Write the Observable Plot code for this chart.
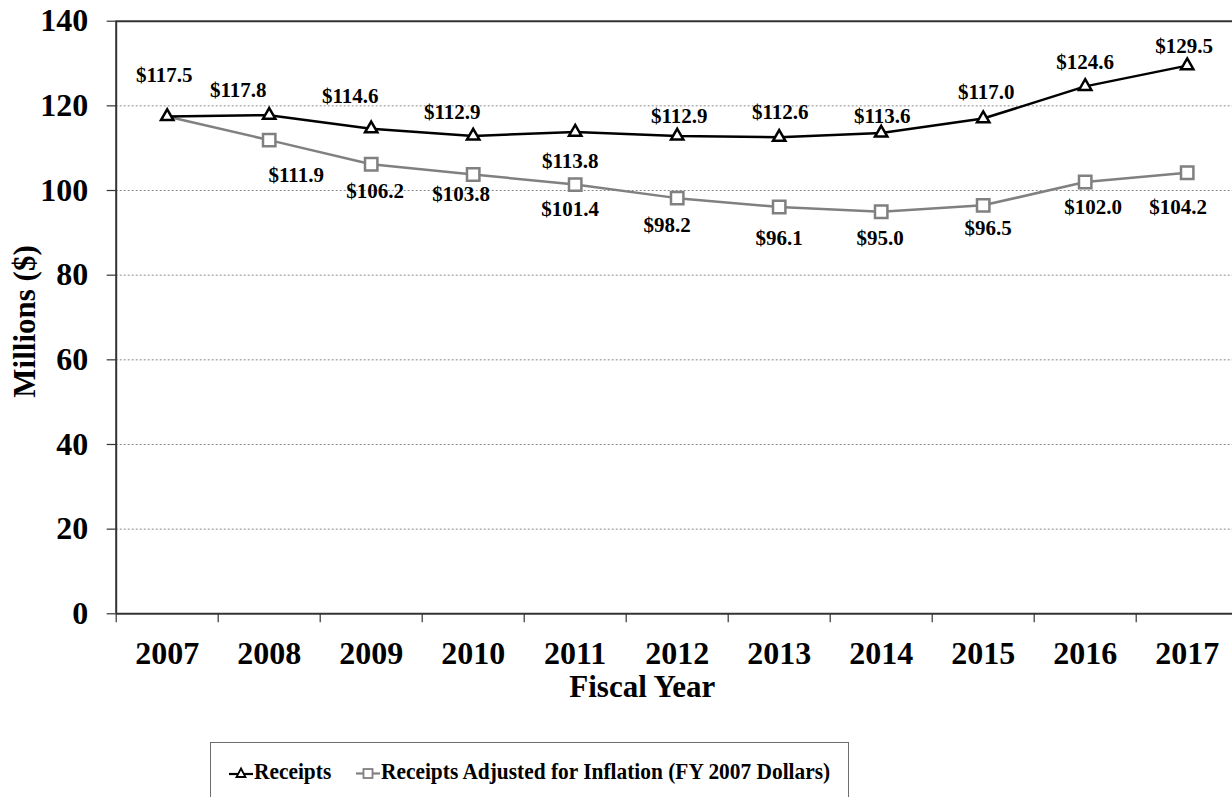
<!DOCTYPE html>
<html><head><meta charset="utf-8">
<script src="https://cdn.jsdelivr.net/npm/d3@7"></script>
<script src="https://cdn.jsdelivr.net/npm/@observablehq/plot@0.6"></script>
<style>
body{margin:0;background:#fff;overflow:hidden;font-family:"Liberation Serif","Times New Roman",serif;}
#wrap{position:relative;width:1232px;height:797px;overflow:hidden;}
#legend{position:absolute;left:210px;top:742px;width:639px;height:72px;border:1.8px solid #6e6e6e;box-sizing:border-box;background:#fff;}
#legend .sym{position:absolute;top:22px;}
#legend .lab{position:absolute;top:14px;font-weight:bold;font-size:23px;line-height:30px;color:#000;white-space:nowrap;transform:scaleX(0.93);transform-origin:0 50%;}
</style>
</head><body>
<div id="wrap"><div id="chart"></div>
<div id="legend">
  <svg class="sym" style="left:18px" width="24" height="16" viewBox="0 0 24 16"><line x1="0" y1="9" x2="24" y2="9" stroke="#000" stroke-width="2.2"/><path d="M12,3.5 L16.5,12 L7.5,12 Z" fill="#fff" stroke="#000" stroke-width="1.8"/></svg>
  <div class="lab" style="left:43px">Receipts</div>
  <svg class="sym" style="left:145px" width="24" height="16" viewBox="0 0 24 16"><line x1="0" y1="8.5" x2="24" y2="8.5" stroke="#808080" stroke-width="2.2"/><rect x="7.5" y="4" width="9" height="9" fill="#fff" stroke="#808080" stroke-width="1.8"/></svg>
  <div class="lab" style="left:170px">Receipts Adjusted for Inflation (FY 2007 Dollars)</div>
</div>
</div>
<script>
// ---- data ----
const years = [2007, 2008, 2009, 2010, 2011, 2012, 2013, 2014, 2015, 2016, 2017];
const receipts = [117.5, 117.8, 114.6, 112.9, 113.8, 112.9, 112.6, 113.6, 117.0, 124.6, 129.5];
const adjusted = [117.5, 111.9, 106.2, 103.8, 101.4, 98.2, 96.1, 95.0, 96.5, 102.0, 104.2];
const yTicks = [0, 20, 40, 60, 80, 100, 120, 140];
const gridTicks = [20, 40, 60, 80, 100, 120];

// label nudges (pixels) – styling, mimicking manual label placement
const receiptsLabelNudge = [[-3,-41],[-31,-25],[-21,-32],[-21,-24],[-5,29],[2,-20],[1,-25],[1,-17],[3,-26],[0,-24],[-3,-19]];
const adjustedLabelNudge = [null,[27,35],[4,27],[-12,20],[-5,25],[-10,27],[0,31],[-1,27],[5,23],[8,25],[-9,35]];

const rData = years.map((yr, i) => ({year: yr, value: receipts[i], i}));
const aData = years.map((yr, i) => ({year: yr, value: adjusted[i], i}));
const fmt = v => "$" + v.toFixed(1);

const H = 740;
const labelMarks = [];
rData.forEach((d, i) => {
  const [dx, dy] = receiptsLabelNudge[i];
  labelMarks.push(Plot.text([d], {x: "year", y: "value", text: d => fmt(d.value), dx, dy, fontSize: 21, fontWeight: "bold", fill: "#000"}));
});
aData.forEach((d, i) => {
  if (!adjustedLabelNudge[i]) return;
  const [dx, dy] = adjustedLabelNudge[i];
  labelMarks.push(Plot.text([d], {x: "year", y: "value", text: d => fmt(d.value), dx, dy, fontSize: 21, fontWeight: "bold", fill: "#000"}));
});

const chart = Plot.plot({
  width: 1232,
  height: H,
  marginLeft: 115.7,
  marginRight: 0,
  marginTop: 20.7,
  marginBottom: H - 613.3,
  style: {fontFamily: '"Liberation Serif","Times New Roman",serif', fontSize: "32px", fontWeight: "bold", color: "#000", background: "#fff", overflow: "hidden"},
  x: {type: "linear", domain: [years[0] - 0.5, years[years.length - 1] + 0.5], range: [115.7, 1237.7], label: null},
  y: {domain: [0, 140], label: null},
  marks: [
    Plot.ruleY(gridTicks, {stroke: "#8a8a8a", strokeWidth: 1, strokeDasharray: "2,2"}),
    Plot.ruleY([140], {stroke: "#333", strokeWidth: 2}),
    Plot.ruleY([0], {stroke: "#333", strokeWidth: 2}),
    Plot.ruleX([years[0] - 0.5], {stroke: "#333", strokeWidth: 2}),
    Plot.axisX({ticks: years.map(y => y - 0.5), tickSize: 9, tickFormat: () => "", stroke: "#333", strokeWidth: 1.2}),
    Plot.axisX({ticks: years, tickSize: 0, tickPadding: 27, tickFormat: d => String(d), fontSize: 32, fontWeight: "bold", fontFamily: '"Liberation Serif",serif'}),
    Plot.axisY({ticks: yTicks, tickSize: 9, tickPadding: 19, tickFormat: d => String(d), stroke: "#333", strokeWidth: 1.2, fontSize: 32, fontWeight: "bold", fontFamily: '"Liberation Serif",serif'}),
    Plot.text(["Fiscal Year"], {frameAnchor: "bottom", textAnchor: "middle", dx: -32, dy: 83, fontSize: 31, fontWeight: "bold", fontFamily: '"Liberation Serif",serif'}),
    Plot.text(["Millions ($)"], {frameAnchor: "left", textAnchor: "middle", rotate: -90, dx: -91, dy: 4, fontSize: 31, fontWeight: "bold", fontFamily: '"Liberation Serif",serif'}),
    Plot.line(aData, {x: "year", y: "value", stroke: "#808080", strokeWidth: 2.5}),
    Plot.line(rData, {x: "year", y: "value", stroke: "#000", strokeWidth: 2.5}),
    Plot.dot(aData.filter(d => d.i > 0), {x: "year", y: "value", symbol: "square", r: 7, fill: "#fff", stroke: "#808080", strokeWidth: 2.5}),
    Plot.dot(rData, {x: "year", y: "value", symbol: "triangle", r: 4.6, fill: "#fff", stroke: "#000", strokeWidth: 2.5}),
    ...labelMarks
  ]
});
document.getElementById("chart").appendChild(chart);
</script>
</body></html>
